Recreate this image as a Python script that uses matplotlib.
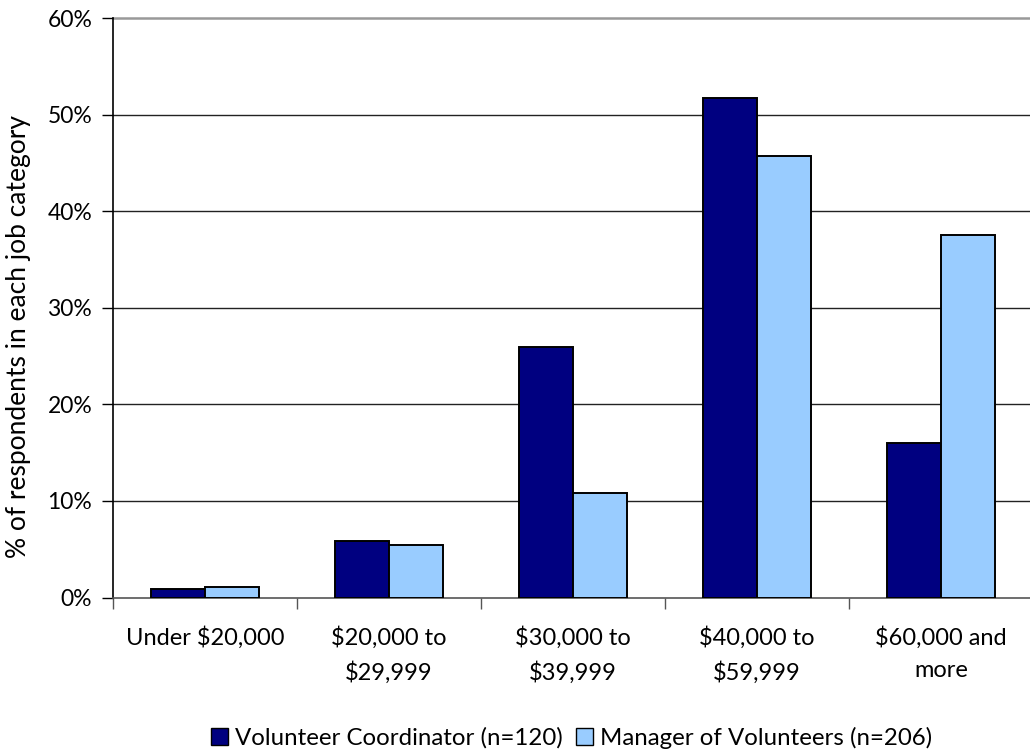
import matplotlib
matplotlib.use("Agg")
import matplotlib.pyplot as plt
import numpy as np
from matplotlib.patches import Patch
from matplotlib.ticker import PercentFormatter

plt.rcParams['font.family'] = ['Lato', 'DejaVu Sans']

categories = ["Under $20,000", "$20,000 to\n$29,999", "$30,000 to\n$39,999",
              "$40,000 to\n$59,999", "$60,000 and\nmore"]
coordinator = [0.85, 5.8, 25.9, 51.7, 16.0]
manager = [1.05, 5.4, 10.8, 45.7, 37.5]
series_names = ["Volunteer Coordinator (n=120)", "Manager of Volunteers (n=206)"]
colors = ["#000080", "#99CCFF"]

W, H = 1030, 751
fig = plt.figure(figsize=(W / 100, H / 100), dpi=100)
left, right, top, bottom = 113, 1033, 18, 597.5
ax = fig.add_axes([left / W, 1 - bottom / H, (right - left) / W, (bottom - top) / H])

x = np.arange(len(categories))
bw = 0.294
ax.bar(x - bw / 2, coordinator, bw, color=colors[0], edgecolor="black", linewidth=1.4, zorder=3)
ax.bar(x + bw / 2, manager, bw, color=colors[1], edgecolor="black", linewidth=1.4, zorder=3)

ax.set_xlim(-0.5, len(categories) - 0.5)
ax.set_ylim(0, 60)
ax.set_yticks(np.arange(0, 61, 10))
ax.yaxis.set_major_formatter(PercentFormatter(decimals=0))
for v in range(10, 60, 10):
    ax.axhline(v, color="#222222", linewidth=1.0, zorder=1)
ax.axhline(60, color="#999999", linewidth=1.8, zorder=1, clip_on=False)

ax.set_xticks(np.arange(-0.5, len(categories), 1.0))
ax.set_xticklabels([])
ax.set_xticks(x, minor=True)
ax.set_xticklabels(categories, minor=True, fontsize=17, linespacing=1.62)
ax.tick_params(axis="x", which="minor", length=0, pad=21)
ax.tick_params(axis="x", which="major", length=8, width=1, color="#555555")
ax.tick_params(axis="y", length=8, width=1, labelsize=16.5, pad=7)

for side in ["top", "right"]:
    ax.spines[side].set_visible(False)
ax.spines["left"].set_color("black")
ax.spines["left"].set_linewidth(1.2)
ax.spines["bottom"].set_color("#555555")
ax.spines["bottom"].set_linewidth(1.2)

fig.text(19 / W, 1 - 336 / H, "% of respondents in each job category", rotation=90,
         ha="center", va="center", fontsize=19)

handles = [Patch(facecolor=c, edgecolor="black", linewidth=1.0) for c in colors]
fig.legend(handles, series_names, loc="center", bbox_to_anchor=(572 / W, 1 - 738 / H),
           ncol=2, frameon=False, fontsize=17.3, handlelength=0.7, handleheight=0.7,
           handletextpad=0.3, columnspacing=0.55)

fig.savefig("out.png", dpi=100)
